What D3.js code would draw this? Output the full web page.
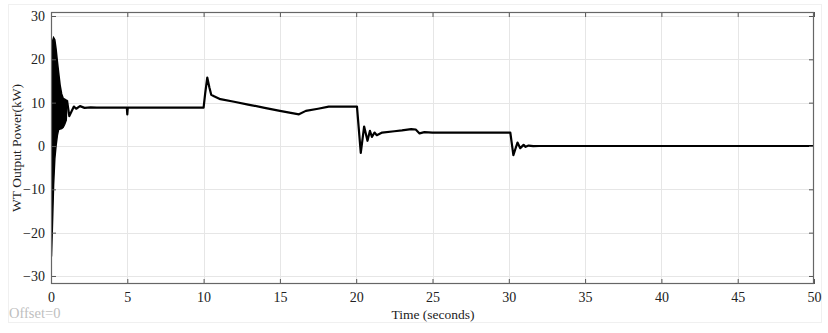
<!DOCTYPE html>
<html>
<head>
<meta charset="utf-8">
<script src="https://cdn.jsdelivr.net/npm/d3@7"></script>
<style>
  html, body { margin: 0; padding: 0; background: #fff; }
  svg { display: block; }
  text { font-family: "Liberation Serif", "Times New Roman", serif; }
</style>
</head>
<body>
<svg id="chart" width="828" height="333"></svg>
<script>
// ---- data ----
// fast start-up oscillation (drawn as a filled band: upper / lower envelope)
const envTime  = [0, 0.03, 0.08, 0.17, 0.25, 0.33, 0.42, 0.5, 0.6, 0.7, 0.8, 0.9, 1.0, 1.05];
const envUpper = [0, 21, 24, 25, 24.5, 22.5, 19.5, 17, 14, 12, 11, 10.8, 10.6, 10.5];
const envLower = [0, -25.5, -20, -9, -3, 0, 2.5, 3.8, 3.9, 4.0, 4.3, 5.0, 6.0, 10.5];

// trace after the start-up
const timeSec = [1.05, 1.2, 1.35, 1.5, 1.65, 1.9, 2.2, 2.6, 3.0, 4.0, 4.97, 5.0, 5.03, 6, 7, 8, 9, 10.0,
  10.1, 10.24, 10.38, 10.5, 10.68, 11.1, 12, 13, 14, 15, 16.25, 16.7, 17.5, 18.2, 19, 20.05,
  20.3, 20.52, 20.74, 20.9, 21.03, 21.2, 21.35, 21.7, 22.5, 23.0, 23.6, 23.9, 24.15, 24.47,
  25, 26, 27, 28, 29, 30.1, 30.3, 30.57, 30.75, 30.97, 31.1, 31.3, 31.6, 32, 35, 40, 45, 50];
const powerKW = [10.5, 6.9, 8.0, 9.1, 8.6, 9.2, 8.8, 8.9, 8.85, 8.85, 8.85, 7.3, 8.85, 8.85, 8.85, 8.85, 8.85, 8.85,
  12, 15.8, 13.5, 11.8, 11.5, 10.8, 10.2, 9.5, 8.8, 8.1, 7.3, 8.1, 8.6, 9.07, 9.07, 9.07,
  -1.6, 4.5, 1.2, 3.5, 2.1, 3.1, 2.5, 3.1, 3.4, 3.6, 3.9, 3.8, 2.9, 3.2,
  3.1, 3.1, 3.1, 3.1, 3.1, 3.1, -2.1, 0.8, -0.5, 0.25, -0.2, 0.1, -0.05, 0, 0, 0, 0, 0];

const xTicks = [0, 5, 10, 15, 20, 25, 30, 35, 40, 45, 50];
const yTicks = [-30, -20, -10, 0, 10, 20, 30];
const xTitle = "Time (seconds)";
const yTitle = "WT Output Power(kW)";
const offsetText = "Offset=0";

// ---- drawing ----
const svg = d3.select("#chart");
const L = 51, R = 814, T = 12, B = 284;
const x = d3.scaleLinear().domain([0, 50]).range([L, R]);
const y = d3.scaleLinear().domain([-31.85, 30.92]).range([B, T]);

// faint outer frame
svg.append("rect").attr("x", 8.5).attr("y", 4.5).attr("width", 813).attr("height", 318)
  .attr("fill", "none").attr("stroke", "#f0f0f0").attr("stroke-width", 1);

// grid
const grid = svg.append("g");
grid.selectAll("line.gx").data(xTicks.slice(1, -1)).join("line")
  .attr("x1", d => Math.round(x(d)) + 0.5).attr("x2", d => Math.round(x(d)) + 0.5)
  .attr("y1", T).attr("y2", B).attr("stroke", "#e6e6e6").attr("stroke-width", 1);
grid.selectAll("line.gy").data(yTicks).join("line")
  .attr("x1", L).attr("x2", R)
  .attr("y1", d => Math.round(y(d)) + 0.5).attr("y2", d => Math.round(y(d)) + 0.5)
  .attr("stroke", "#e6e6e6").attr("stroke-width", 1);

// data
const clip = svg.append("clipPath").attr("id", "clip").append("rect")
  .attr("x", L).attr("y", T).attr("width", R - L).attr("height", B - T);
const plot = svg.append("g").attr("clip-path", "url(#clip)");

const env = envTime.map((t, i) => ({ t, hi: envUpper[i], lo: envLower[i] }));
plot.append("path").datum(env)
  .attr("d", d3.area().x(d => x(d.t)).y0(d => y(d.lo)).y1(d => y(d.hi)))
  .attr("fill", "#000").attr("stroke", "#000").attr("stroke-width", 1.5);

const pts = timeSec.map((t, i) => ({ t, v: powerKW[i] }));
plot.append("path").datum(pts)
  .attr("d", d3.line().x(d => x(d.t)).y(d => y(d.v)))
  .attr("fill", "none").attr("stroke", "#000").attr("stroke-width", 2.2)
  .attr("stroke-linejoin", "round");

// axes (ticks inward on all four sides)
const tickColor = "#555";
const xb = svg.append("g").attr("transform", `translate(0,${B})`)
  .call(d3.axisBottom(x).tickValues(xTicks).tickSize(-5).tickPadding(8).tickFormat(d3.format("d")));
const xt = svg.append("g").attr("transform", `translate(0,${T})`)
  .call(d3.axisTop(x).tickValues(xTicks).tickSize(-5).tickFormat(""));
const yl = svg.append("g").attr("transform", `translate(${L},0)`)
  .call(d3.axisLeft(y).tickValues(yTicks).tickSize(-5).tickPadding(6).tickFormat(d3.format("d")));
const yr = svg.append("g").attr("transform", `translate(${R},0)`)
  .call(d3.axisRight(y).tickValues(yTicks).tickSize(-5).tickFormat(""));
[xb, xt, yl, yr].forEach(g => {
  g.select(".domain").attr("stroke", "none");
  g.selectAll(".tick line").attr("stroke", tickColor);
  g.selectAll(".tick text").attr("fill", "#222").attr("font-size", 14)
    .style("font-family", "'Liberation Serif', 'Times New Roman', serif");
});

// plot border
svg.append("rect").attr("x", L + 0.5).attr("y", T + 0.5).attr("width", R - L - 1).attr("height", B - T - 1)
  .attr("fill", "none").attr("stroke", "#666").attr("stroke-width", 1.2);

// titles
svg.append("text").attr("x", 433).attr("y", 319).attr("text-anchor", "middle")
  .attr("font-size", 13.5).attr("fill", "#222").text(xTitle);
svg.append("text").attr("transform", "translate(21,148) rotate(-90)").attr("text-anchor", "middle")
  .attr("font-size", 13.5).attr("fill", "#222").text(yTitle);
svg.append("text").attr("x", 9).attr("y", 318).attr("font-size", 14.5).attr("fill", "#c0c0c0").text(offsetText);
</script>
</body>
</html>
